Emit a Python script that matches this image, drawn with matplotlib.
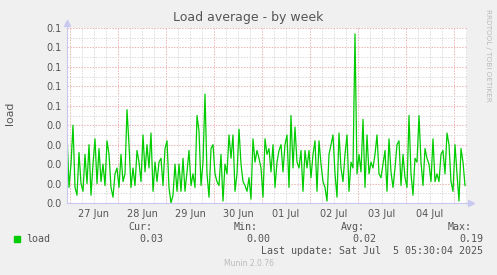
import matplotlib
matplotlib.use("Agg")
import matplotlib.pyplot as plt
import matplotlib.lines as mlines
import numpy as np
import pandas as pd

# ---- data (hourly load average, units of 0.001) ----
start_time = "2025-06-26 22:30"
load_milli = [
    36, 8, 20, 40, 8, 4, 26, 10, 6, 25, 10, 30, 4, 20, 33, 10, 28, 11, 20, 9,
    32, 25, 8, 3, 15, 18, 8, 25, 11, 15, 48, 30, 8, 18,
    9, 27, 21, 11, 35, 16, 30, 18, 36, 6, 21, 11, 21, 23, 9, 28, 32, 8, 0, 4,
    20, 6, 20, 6, 23, 6, 16, 27, 9, 15, 8, 45, 37, 9,
    21, 56, 15, 3, 28, 30, 15, 11, 9, 25, 1, 20, 15, 35, 23, 35, 6, 15, 38, 20,
    11, 9, 6, 13, 2, 33, 21, 27, 23, 18, 3, 33, 25, 28,
    16, 30, 8, 21, 27, 30, 16, 30, 35, 8, 45, 18, 39, 21, 18, 27, 6, 27, 18, 27,
    13, 25, 32, 6, 32, 20, 11, 8, 1, 25, 30, 35, 15, 3,
    36, 18, 11, 25, 35, 6, 21, 18, 87, 15, 25, 16, 43, 8, 35, 15, 21, 18, 25, 35,
    15, 13, 20, 27, 6, 33, 16, 8, 18, 30, 32, 9, 25, 13,
    8, 45, 15, 4, 23, 21, 45, 21, 9, 28, 23, 20, 11, 33, 11, 15, 11, 25, 27, 15,
    36, 30, 11, 6, 30, 15, 1, 28, 21, 9,
]
day_labels = ["27 Jun", "28 Jun", "29 Jun", "30 Jun", "01 Jul", "02 Jul", "03 Jul", "04 Jul"]
y_ticks = [0.00, 0.01, 0.02, 0.03, 0.04, 0.05, 0.06, 0.07, 0.08, 0.09]
legend_name = "load"
stat_names = ["Cur:", "Min:", "Avg:", "Max:"]
stat_values = ["0.03", "0.00", "0.02", "0.19"]
title = "Load average - by week"
last_update = "Last update: Sat Jul  5 05:30:04 2025"

W, H = 497, 275
BG = "#F0F0F0"
GREEN = "#00CC00"
TXT = "#555555"
MGRID = "#EBB4B4"
GRID = "#DADADA"
AXC = "#C8C8F0"

def fx(px):
    return px / W

def fy(py):
    return 1 - py / H

t0 = pd.Timestamp(start_time)
times = pd.date_range(t0, periods=len(load_milli), freq="h")
values = np.array(load_milli) / 1000.0
t_end = t0 + pd.Timedelta(hours=200)

fig = plt.figure(figsize=(W / 100, H / 100), dpi=100, facecolor=BG)
ax = fig.add_axes([fx(67), fy(203), fx(400), 175 / H])
ax.set_facecolor("white")

# grid lines
dash = (0, (1.4, 1.4))
hours6 = pd.date_range(t0.ceil("6h"), t_end, freq="6h")
for t in hours6:
    ax.axvline(t, color=MGRID if t.hour == 0 else GRID, lw=0.72, ls=dash, zorder=1)
for yv in y_ticks:
    ax.axhline(yv, color=MGRID, lw=0.72, ls=dash, zorder=1)
    ax.axhline(yv + 0.005, color=GRID, lw=0.72, ls=dash, zorder=1)

ax.plot(times, values, color=GREEN, lw=0.9, zorder=3)

ax.set_xlim(t0, t_end)
ax.set_ylim(0, 0.09)
label_pos = pd.date_range("2025-06-27 12:00", periods=len(day_labels), freq="D")
ax.set_xticks(label_pos)
ax.set_xticklabels(day_labels)
ax.set_yticks(y_ticks)
ax.set_yticklabels(["%.1f" % v for v in y_ticks])
ax.tick_params(axis="both", length=0, labelsize=7, labelcolor=TXT, pad=4)
for s in ax.spines.values():
    s.set_visible(False)

# axis lines with arrows
fig.add_artist(mlines.Line2D([fx(67), fx(470)], [fy(203), fy(203)], color=AXC, lw=0.8))
fig.add_artist(mlines.Line2D([fx(67), fx(67)], [fy(203), fy(25)], color=AXC, lw=0.8))
fig.add_artist(mlines.Line2D([fx(471)], [fy(203)], marker=">", ms=4, color=AXC, mec=AXC))
fig.add_artist(mlines.Line2D([fx(67)], [fy(23)], marker="^", ms=4, color=AXC, mec=AXC))

fig.text(0.5, fy(17), title, ha="center", va="center", fontsize=9, color=TXT)
fig.text(fx(10), fy(113), "load", rotation=90, ha="center", va="center", fontsize=7.8, color=TXT)
fig.text(fx(488), fy(55), "RRDTOOL / TOBI OETIKER", rotation=270, ha="center", va="center",
         fontsize=5.2, color="#BBBBBB")

mono = "DejaVu Sans Mono"
fig.add_artist(mlines.Line2D([fx(16.5)], [fy(239)], marker="s", ms=4.5, color=GREEN, mec=GREEN))
fig.text(fx(26), fy(239), legend_name, ha="left", va="center", fontsize=7.2, family=mono, color=TXT)
head_x = [128, 234, 341, 448]
val_right = [163, 270, 376, 483]
for nm, hx in zip(stat_names, head_x):
    fig.text(fx(hx), fy(227), nm, ha="left", va="center", fontsize=7.2, family=mono, color=TXT)
for v, vx in zip(stat_values, val_right):
    fig.text(fx(vx), fy(239), v, ha="right", va="center", fontsize=7.2, family=mono, color=TXT)
fig.text(fx(483), fy(251), last_update, ha="right", va="center", fontsize=7.2, family=mono, color=TXT)
fig.text(0.5, fy(264), "Munin 2.0.76", ha="center", va="center", fontsize=5.5, color="#BBBBBB")

fig.savefig("out.png", dpi=100, facecolor=BG)
